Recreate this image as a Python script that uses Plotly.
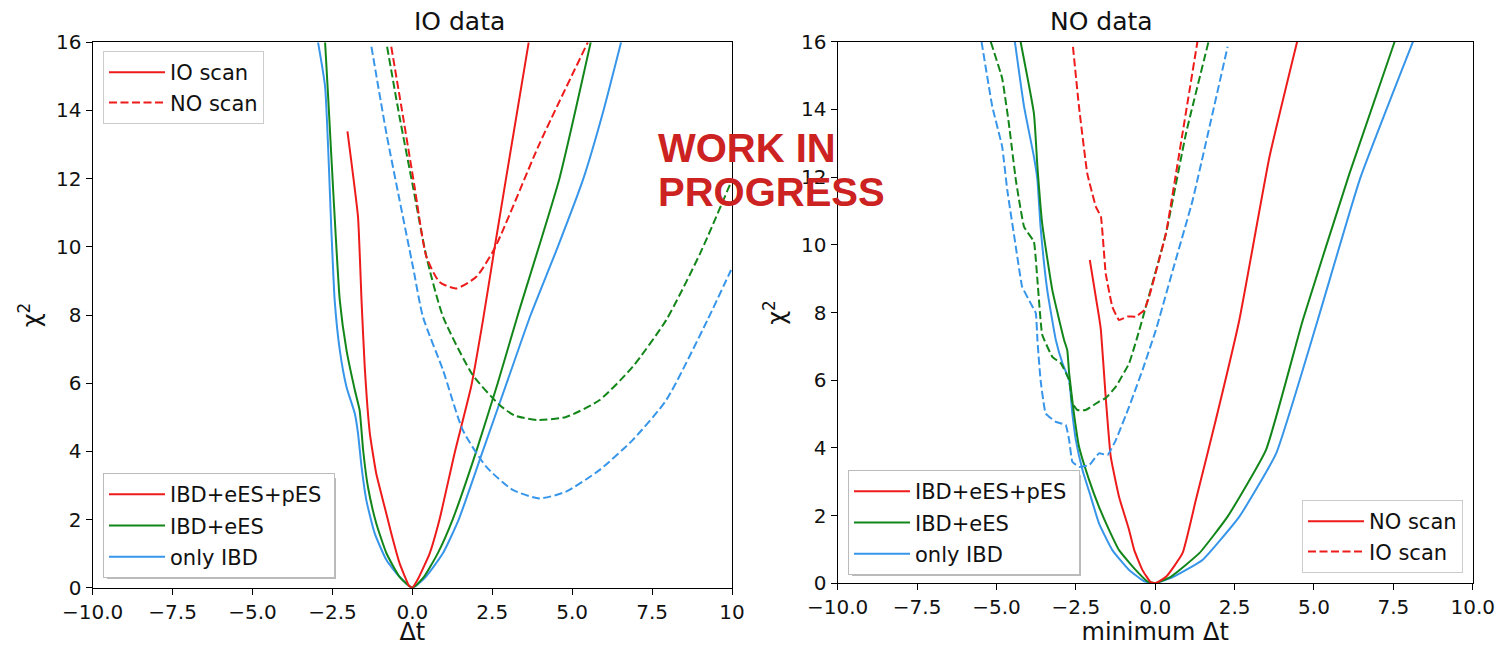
import plotly.graph_objects as go

W, H = 1498, 646

# ---------------- data: left panel "IO data" ----------------
io_ibd_x = [-2.95, -2.73, -2.53, -2.43, -2.27, -2.06, -1.80, -1.70, -1.59, -1.44, -1.18, -0.81, -0.40, 0.0, 0.4, 0.95, 1.45, 2.2, 2.95, 3.7, 4.55, 5.35, 5.98, 6.53]
io_ibd_y = [16.0, 14.7, 10.4, 8.43, 6.97, 5.89, 5.11, 4.53, 3.55, 2.57, 1.6, 0.81, 0.32, 0.0, 0.3, 1.0, 2.0, 4.0, 6.0, 8.0, 10.0, 12.0, 14.0, 16.0]

io_ees_x = [-2.73, -2.64, -2.27, -2.06, -1.80, -1.65, -1.54, -1.39, -1.13, -0.81, -0.40, 0.0, 0.35, 0.79, 1.26, 2.0, 2.67, 3.3, 4.6, 5.58]
io_ees_y = [16.0, 14.5, 8.43, 6.97, 5.80, 5.21, 4.04, 2.96, 1.89, 1.01, 0.32, 0.0, 0.3, 1.0, 2.0, 4.0, 6.0, 8.0, 12.0, 16.0]

io_pes_x = [-2.03, -1.7, -1.59, -1.49, -1.33, -1.13, -0.87, -0.66, -0.40, -0.1, 0.0, 0.2, 0.54, 0.85, 1.32, 1.84, 2.21, 2.57, 2.93, 3.64]
io_pes_y = [13.39, 10.88, 8.43, 6.48, 4.53, 3.35, 2.38, 1.6, 0.72, 0.05, 0.0, 0.3, 1.0, 2.0, 3.94, 5.9, 7.85, 9.95, 12.0, 16.0]

io_pes_no_x = [-0.66, -0.29, 0.07, 0.44, 0.85, 1.37, 2.0, 2.57, 3.98, 5.49]
io_pes_no_y = [15.87, 13.81, 11.76, 9.71, 8.97, 8.78, 9.12, 9.95, 13.03, 16.0]

io_ees_no_x = [-0.79, -0.4, 0.02, 0.44, 0.96, 1.89, 2.73, 3.2, 3.93, 4.81, 5.85, 6.89, 7.94, 9.0, 9.97]
io_ees_no_y = [15.87, 13.81, 11.76, 9.71, 7.95, 6.24, 5.36, 5.05, 4.92, 5.01, 5.5, 6.48, 7.85, 9.8, 11.9]

io_ibd_no_x = [-1.28, -0.81, -0.40, 0.02, 0.33, 0.96, 1.58, 2.31, 3.14, 3.98, 4.81, 5.85, 6.89, 7.94, 9.23, 9.97]
io_ibd_no_y = [15.87, 13.32, 11.37, 9.41, 7.95, 6.38, 4.62, 3.55, 2.87, 2.62, 2.82, 3.45, 4.33, 5.5, 7.85, 9.32]

# ---------------- data: right panel "NO data" ----------------
no_ees_x = [-4.24, -3.82, -3.71, -3.56, -3.24, -2.87, -2.77, -2.71, -2.56, -2.40, -2.08, -1.77, -1.45, -1.14, -0.61, -0.25, 0.0, 0.5, 1.39, 2.28, 3.49, 4.65, 6.12, 7.54]
no_ees_y = [16.0, 13.88, 12.31, 10.63, 8.66, 7.19, 6.89, 6.2, 5.02, 4.04, 3.05, 2.26, 1.57, 0.98, 0.39, 0.06, 0.0, 0.2, 0.89, 1.97, 3.94, 7.78, 12.11, 16.0]

no_ibd_x = [-4.42, -4.13, -3.82, -3.71, -3.61, -3.40, -3.13, -2.92, -2.71, -2.61, -2.50, -2.29, -2.03, -1.77, -1.35, -0.82, -0.35, 0.0, 0.55, 1.49, 2.65, 3.81, 5.12, 6.44, 8.12]
no_ibd_y = [16.0, 14.08, 12.6, 11.92, 10.53, 8.66, 7.19, 6.5, 6.0, 5.02, 4.23, 3.35, 2.56, 1.77, 0.98, 0.39, 0.06, 0.0, 0.18, 0.69, 1.97, 3.84, 7.78, 11.92, 16.0]

no_pes_x = [-2.06, -1.77, -1.71, -1.56, -1.40, -1.14, -0.82, -0.66, -0.40, -0.15, 0.0, 0.35, 0.86, 1.28, 1.91, 2.65, 3.6, 4.47]
no_pes_y = [9.55, 7.88, 7.48, 5.51, 3.74, 2.56, 1.57, 0.98, 0.39, 0.04, 0.0, 0.2, 0.89, 2.46, 4.83, 7.78, 12.6, 16.0]

no_pes_io_x = [-2.59, -2.40, -2.14, -1.87, -1.71, -1.56, -1.35, -1.14, -0.87, -0.61, -0.35, -0.19, 0.05, 0.34, 0.86, 1.33]
no_pes_io_y = [15.85, 14.08, 12.11, 11.13, 10.83, 9.16, 8.17, 7.78, 7.88, 7.88, 8.07, 8.47, 9.3, 10.34, 13.29, 16.0]

no_ees_io_x = [-5.18, -4.82, -4.61, -4.39, -4.13, -3.82, -3.71, -3.56, -3.24, -2.97, -2.71, -2.61, -2.45, -2.19, -1.77, -1.56, -1.24, -0.82, -0.5, 0.34, 0.97, 1.68]
no_ees_io_y = [16.0, 14.92, 13.59, 11.92, 10.53, 10.09, 8.96, 7.35, 6.69, 6.5, 6.0, 5.32, 5.12, 5.12, 5.37, 5.47, 5.81, 6.5, 7.48, 10.34, 13.29, 16.0]

no_ibd_io_x = [-5.47, -5.13, -4.82, -4.66, -4.39, -4.19, -3.92, -3.76, -3.71, -3.61, -3.45, -3.13, -2.82, -2.71, -2.61, -2.40, -2.08, -1.77, -1.50, -1.24, -0.82, -0.40, 0.02, 0.6, 1.18, 2.28]
no_ibd_io_y = [16.0, 14.08, 12.9, 11.62, 9.94, 8.76, 8.27, 7.98, 7.19, 6.0, 5.02, 4.77, 4.68, 4.23, 3.59, 3.44, 3.49, 3.84, 3.79, 4.23, 5.22, 6.3, 7.48, 9.4, 11.32, 15.85]

x_ticks = [-10.0, -7.5, -5.0, -2.5, 0.0, 2.5, 5.0, 7.5, 10.0]
x_ticktext_left = ["\u221210.0", "\u22127.5", "\u22125.0", "\u22122.5", "0.0", "2.5", "5.0", "7.5", "10"]
x_ticktext_right = ["\u221210.0", "\u22127.5", "\u22125.0", "\u22122.5", "0.0", "2.5", "5.0", "7.5", "10.0"]
y_ticks = [0, 2, 4, 6, 8, 10, 12, 14, 16]

RED = "#ee1b1b"
GREEN = "#13861a"
BLUE = "#3796ea"
DASH = "8px,3.5px"
LW = 2

fig = go.Figure()

def add(x, y, color, dash, xa, ya, smooth=0.6):
    fig.add_trace(go.Scatter(x=x, y=y, mode="lines",
                             line=dict(color=color, width=LW, dash=dash, shape="spline", smoothing=smooth),
                             xaxis=xa, yaxis=ya, showlegend=False, hoverinfo="skip", cliponaxis=True))

# left
add(io_ibd_x, io_ibd_y, BLUE, "solid", "x", "y", 0.5)
add(io_ees_x, io_ees_y, GREEN, "solid", "x", "y", 0.5)
add(io_pes_x, io_pes_y, RED, "solid", "x", "y", 0.4)
add(io_ibd_no_x, io_ibd_no_y, BLUE, DASH, "x", "y")
add(io_ees_no_x, io_ees_no_y, GREEN, DASH, "x", "y")
add(io_pes_no_x, io_pes_no_y, RED, DASH, "x", "y")
# right
add(no_ibd_x, no_ibd_y, BLUE, "solid", "x2", "y2", 0.4)
add(no_ees_x, no_ees_y, GREEN, "solid", "x2", "y2", 0.4)
add(no_pes_x, no_pes_y, RED, "solid", "x2", "y2", 0.4)
add(no_ibd_io_x, no_ibd_io_y, BLUE, DASH, "x2", "y2", 0.3)
add(no_ees_io_x, no_ees_io_y, GREEN, DASH, "x2", "y2", 0.3)
add(no_pes_io_x, no_pes_io_y, RED, DASH, "x2", "y2", 0.3)

# legend entries
def leg(name, color, dash, legend, group):
    fig.add_trace(go.Scatter(x=[None], y=[None], mode="lines", name=name,
                             line=dict(color=color, width=LW, dash=dash),
                             legend=legend, legendgroup=group, showlegend=True))

NB = "\u00a0"
leg("IO scan", RED, "solid", "legend", "a1")
leg("NO scan", RED, DASH, "legend", "a2")
leg("IBD+eES+pES" + NB, RED, "solid", "legend2", "b1")
leg("IBD+eES", GREEN, "solid", "legend2", "b2")
leg("only IBD", BLUE, "solid", "legend2", "b3")
leg("IBD+eES+pES" + NB, RED, "solid", "legend3", "c1")
leg("IBD+eES", GREEN, "solid", "legend3", "c2")
leg("only IBD", BLUE, "solid", "legend3", "c3")
leg("NO scan", RED, "solid", "legend4", "d1")
leg("IO scan", RED, DASH, "legend4", "d2")

FONT = "DejaVu Sans"
TXT = "#111111"
legfont = dict(family=FONT, size=21, color=TXT)

def legbase(gap, border="#cccccc"):
    return dict(font=legfont, bgcolor="white", bordercolor=border, borderwidth=1,
                tracegroupgap=gap, itemwidth=56)

def px2x(p):
    return p / W

def py2y(p):
    return 1 - p / H

axis_common = dict(showline=True, linecolor="black", linewidth=1.3, mirror=True, ticks="outside",
                   ticklen=6, tickwidth=1.3, tickcolor="black", showgrid=False, zeroline=False,
                   automargin=False, tickfont=dict(family=FONT, size=20, color=TXT))

fig.update_layout(
    width=W, height=H, margin=dict(l=0, r=0, t=0, b=0, autoexpand=False),
    plot_bgcolor="white", paper_bgcolor="white",
    xaxis=dict(domain=[px2x(92.7), px2x(732)], range=[-10, 10], tickvals=x_ticks, ticktext=x_ticktext_left,
               anchor="y", title=dict(text="\u0394t", font=dict(family=FONT, size=24, color=TXT), standoff=6),
               **axis_common),
    yaxis=dict(domain=[py2y(587.7), py2y(42.3)], range=[0, 16], tickvals=y_ticks, anchor="x",
               title=dict(text="\u03c7<sup>2</sup>", font=dict(family=FONT, size=24, color=TXT), standoff=8),
               **axis_common),
    xaxis2=dict(domain=[px2x(837.7), px2x(1472.7)], range=[-10, 10], tickvals=x_ticks, ticktext=x_ticktext_right,
                anchor="y2", title=dict(text="minimum \u0394t", font=dict(family=FONT, size=24, color=TXT), standoff=6),
                **axis_common),
    yaxis2=dict(domain=[py2y(583.3), py2y(41.7)], range=[0, 16], tickvals=y_ticks, anchor="x2",
                title=dict(text="\u03c7<sup>2</sup>", font=dict(family=FONT, size=24, color=TXT), standoff=8),
                **axis_common),
    legend=dict(x=px2x(103), y=py2y(51), xanchor="left", yanchor="top", **legbase(0)),
    legend2=dict(x=px2x(103), y=py2y(578), xanchor="left", yanchor="bottom", **legbase(1, "#bbbbbb")),
    legend3=dict(x=px2x(848), y=py2y(575), xanchor="left", yanchor="bottom", **legbase(1, "#bbbbbb")),
    legend4=dict(x=px2x(1463), y=py2y(573), xanchor="right", yanchor="bottom", **legbase(0)),
)

# drop shadows behind the two lower-left legends
for (x0, y0, x1, y1) in [(107, 478, 336, 579), (852, 475, 1081, 576)]:
    fig.add_shape(type="rect", xref="paper", yref="paper", x0=px2x(x0), x1=px2x(x1), y0=py2y(y1), y1=py2y(y0),
                  line=dict(width=0), fillcolor="rgba(140,140,140,0.6)", layer="above")

fig.add_annotation(text="IO data", x=px2x(412), y=py2y(22), xref="paper", yref="paper", yanchor="middle",
                   showarrow=False, font=dict(family=FONT, size=25, color=TXT))
fig.add_annotation(text="NO data", x=px2x(1155), y=py2y(22), xref="paper", yref="paper", yanchor="middle",
                   showarrow=False, font=dict(family=FONT, size=25, color=TXT))

WIP = dict(family="Liberation Sans", size=40, color="#cc2222")
fig.add_annotation(text="<b>WORK IN</b>", x=px2x(656), y=py2y(148), xref="paper", yref="paper",
                   xanchor="left", yanchor="middle", showarrow=False, font=WIP)
fig.add_annotation(text="<b>PROGRESS</b>", x=px2x(656), y=py2y(192), xref="paper", yref="paper",
                   xanchor="left", yanchor="middle", showarrow=False, font=WIP)

fig.write_html("out.html")
